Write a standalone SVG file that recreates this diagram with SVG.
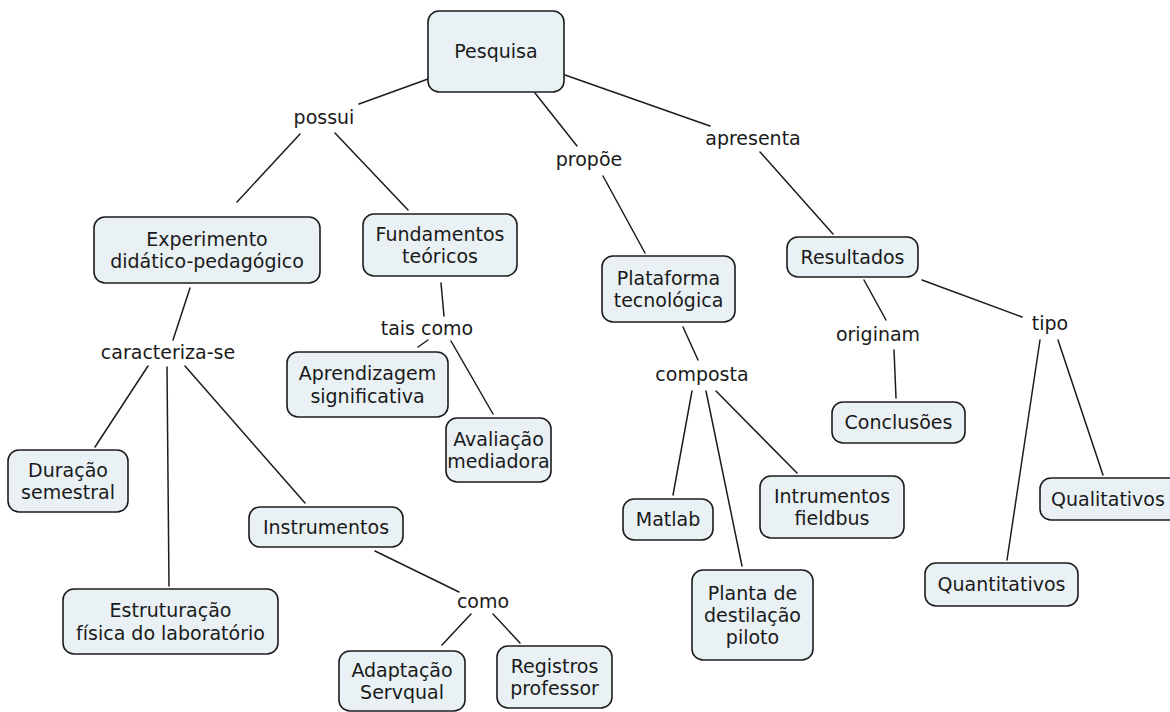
<svg xmlns="http://www.w3.org/2000/svg" width="1170" height="712" viewBox="0 0 1170 712">
  <style>
    .box { fill: #e9f1f5; stroke: #1c1c1c; stroke-width: 1.6; }
    .t { font-family: "DejaVu Sans", Verdana, sans-serif; font-size: 19px; fill: #1a1a1a; text-anchor: middle; }
    .link { stroke: #1c1c1c; stroke-width: 1.5; fill: none; stroke-linecap: round; }
  </style>
  <rect width="1170" height="712" fill="#ffffff"/>

  <!-- connectors and linking phrases -->
  <g id="connectors">
    <line class="link" x1="428" y1="79" x2="359" y2="104"/>
    <line class="link" x1="300" y1="134" x2="237" y2="202"/>
    <line class="link" x1="335" y1="133" x2="408" y2="210"/>
    <line class="link" x1="535" y1="93" x2="577" y2="146"/>
    <line class="link" x1="603" y1="176" x2="645" y2="253"/>
    <line class="link" x1="565" y1="75" x2="710" y2="126"/>
    <line class="link" x1="760" y1="152" x2="833" y2="234"/>
    <line class="link" x1="190" y1="288" x2="173" y2="340"/>
    <line class="link" x1="148" y1="366" x2="95" y2="447"/>
    <line class="link" x1="167" y1="367" x2="169" y2="586"/>
    <line class="link" x1="185" y1="366" x2="305" y2="503"/>
    <line class="link" x1="441" y1="283" x2="444" y2="316"/>
    <line class="link" x1="428" y1="340" x2="418" y2="347"/>
    <line class="link" x1="451" y1="341" x2="493" y2="414"/>
    <line class="link" x1="683" y1="327" x2="698" y2="360"/>
    <line class="link" x1="692" y1="391" x2="673" y2="495"/>
    <line class="link" x1="706" y1="391" x2="742" y2="566"/>
    <line class="link" x1="716" y1="391" x2="797" y2="473"/>
    <line class="link" x1="864" y1="280" x2="886" y2="320"/>
    <line class="link" x1="922" y1="280" x2="1022" y2="317"/>
    <line class="link" x1="894" y1="350" x2="896" y2="398"/>
    <line class="link" x1="1040" y1="340" x2="1007" y2="560"/>
    <line class="link" x1="1058" y1="340" x2="1103" y2="475"/>
    <line class="link" x1="375" y1="551" x2="459" y2="592"/>
    <line class="link" x1="471" y1="614" x2="442" y2="645"/>
    <line class="link" x1="493" y1="614" x2="520" y2="643"/>

    <text class="t" x="324" y="124">possui</text>
    <text class="t" x="589" y="166">propõe</text>
    <text class="t" x="753" y="145">apresenta</text>
    <text class="t" x="168" y="359">caracteriza-se</text>
    <text class="t" x="427" y="335">tais como</text>
    <text class="t" x="702" y="381">composta</text>
    <text class="t" x="878" y="341">originam</text>
    <text class="t" x="1050" y="330">tipo</text>
    <text class="t" x="483" y="608">como</text>
  </g>

  <g id="pesquisa">
    <rect class="box" x="428" y="11" width="136" height="81" rx="11"/>
    <text class="t" x="496" y="58">Pesquisa</text>
  </g>
  <g id="experimento">
    <rect class="box" x="94" y="217" width="226" height="66" rx="11"/>
    <text class="t" x="207" y="245.5">Experimento</text>
    <text class="t" x="207" y="268">didático-pedagógico</text>
  </g>
  <g id="fundamentos">
    <rect class="box" x="363" y="214" width="154" height="62" rx="11"/>
    <text class="t" x="440" y="240.5">Fundamentos</text>
    <text class="t" x="440" y="263">teóricos</text>
  </g>
  <g id="plataforma">
    <rect class="box" x="602" y="256" width="133" height="66" rx="11"/>
    <text class="t" x="668.5" y="284.5">Plataforma</text>
    <text class="t" x="668.5" y="307">tecnológica</text>
  </g>
  <g id="resultados">
    <rect class="box" x="787" y="237" width="131" height="40" rx="11"/>
    <text class="t" x="852.5" y="263.5">Resultados</text>
  </g>
  <g id="aprendizagem">
    <rect class="box" x="287" y="352" width="161" height="65" rx="11"/>
    <text class="t" x="367.5" y="380">Aprendizagem</text>
    <text class="t" x="367.5" y="402.5">significativa</text>
  </g>
  <g id="avaliacao">
    <rect class="box" x="446" y="418" width="105" height="64" rx="11"/>
    <text class="t" x="498.5" y="445.5">Avaliação</text>
    <text class="t" x="498.5" y="468">mediadora</text>
  </g>
  <g id="duracao">
    <rect class="box" x="8" y="450" width="120" height="62" rx="11"/>
    <text class="t" x="68" y="476.5">Duração</text>
    <text class="t" x="68" y="499">semestral</text>
  </g>
  <g id="instrumentos">
    <rect class="box" x="249" y="507" width="154" height="40" rx="11"/>
    <text class="t" x="326" y="533.5">Instrumentos</text>
  </g>
  <g id="estruturacao">
    <rect class="box" x="63" y="589" width="215" height="65" rx="11"/>
    <text class="t" x="170.5" y="617">Estruturação</text>
    <text class="t" x="170.5" y="639.5">física do laboratório</text>
  </g>
  <g id="adaptacao">
    <rect class="box" x="339" y="651" width="126" height="60" rx="11"/>
    <text class="t" x="402" y="676.5">Adaptação</text>
    <text class="t" x="402" y="699">Servqual</text>
  </g>
  <g id="registros">
    <rect class="box" x="497" y="646" width="115" height="62" rx="11"/>
    <text class="t" x="554.5" y="672.5">Registros</text>
    <text class="t" x="554.5" y="695">professor</text>
  </g>
  <g id="matlab">
    <rect class="box" x="623" y="499" width="90" height="41" rx="11"/>
    <text class="t" x="668" y="526">Matlab</text>
  </g>
  <g id="fieldbus">
    <rect class="box" x="760" y="476" width="144" height="62" rx="11"/>
    <text class="t" x="832" y="502.5">Intrumentos</text>
    <text class="t" x="832" y="525">fieldbus</text>
  </g>
  <g id="planta">
    <rect class="box" x="692" y="570" width="121" height="90" rx="11"/>
    <text class="t" x="752.5" y="599.5">Planta de</text>
    <text class="t" x="752.5" y="621.5">destilação</text>
    <text class="t" x="752.5" y="643.5">piloto</text>
  </g>
  <g id="conclusoes">
    <rect class="box" x="832" y="402" width="133" height="41" rx="11"/>
    <text class="t" x="898.5" y="429">Conclusões</text>
  </g>
  <g id="qualitativos">
    <rect class="box" x="1040" y="478" width="142" height="42" rx="11"/>
    <text class="t" x="1108" y="505.5">Qualitativos</text>
  </g>
  <g id="quantitativos">
    <rect class="box" x="925" y="563" width="153" height="43" rx="11"/>
    <text class="t" x="1001.5" y="591">Quantitativos</text>
  </g>
</svg>
